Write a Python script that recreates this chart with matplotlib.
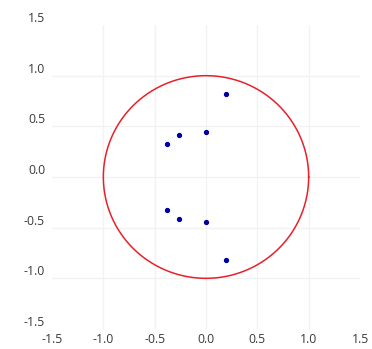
import matplotlib
matplotlib.use('Agg')
import matplotlib.pyplot as plt
import numpy as np

plt.rcParams['font.family'] = ['Open Sans', 'DejaVu Sans']
plt.rcParams['axes.unicode_minus'] = False

# pole locations (upper half, mirrored below)
re_vals = [0.19, 0.0, -0.26, -0.38]
im_vals = [0.82, 0.44, 0.41, 0.33]
ticks = [-1.5, -1.0, -0.5, 0.0, 0.5, 1.0, 1.5]
tick_labels = ['-1.5', '-1.0', '-0.5', '0.0', '0.5', '1.0', '1.5']

fig = plt.figure(figsize=(3.72, 3.49), dpi=100)
ax = fig.add_axes([52/372, 1-329/349, 308/372, 304/349])

theta = np.linspace(0, 2*np.pi, 400)
ax.plot(np.cos(theta), np.sin(theta), color='#e8202a', lw=1.1, zorder=3)

xs = re_vals + re_vals
ys = im_vals + [-v for v in im_vals]
ax.plot(xs, ys, 'o', color='#0000a0', ms=2.8, zorder=4)

ax.set_xlim(-1.5, 1.5)
ax.set_ylim(-1.5, 1.5)
ax.set_xticks(ticks)
ax.set_yticks(ticks)
ax.set_xticklabels(tick_labels)
ax.set_yticklabels(tick_labels)
ax.grid(True, color='#f2f2f2', lw=1)
ax.set_axisbelow(True)
for gl in (ax.xaxis.get_gridlines(), ax.yaxis.get_gridlines()):
    gl[0].set_visible(False)
    gl[-1].set_visible(False)

for s in ax.spines.values():
    s.set_visible(False)
ax.tick_params(length=0, labelsize=8.8, labelcolor='#3a3a3a')
ax.tick_params(axis='x', pad=3)
ax.tick_params(axis='y', pad=5)
for lbl in ax.get_yticklabels():
    lbl.set_va('bottom')

fig.savefig('out.png', dpi=100)
